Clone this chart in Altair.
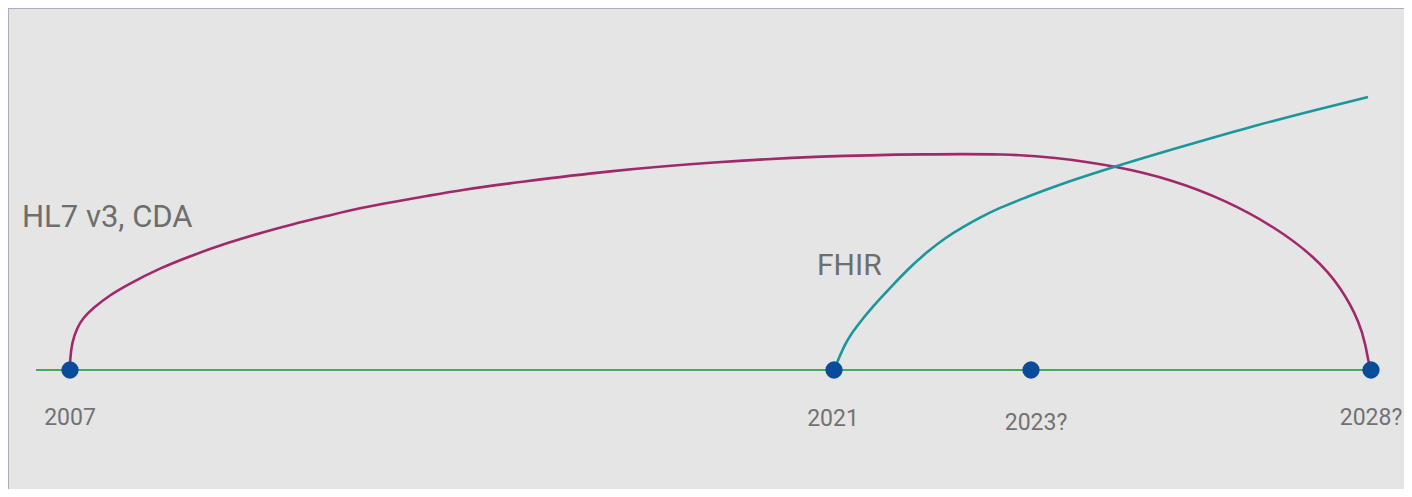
import altair as alt
import pandas as pd

W, H = 1396, 481

# Timeline milestones (position along the timeline, label)
ms_pos = [62, 826, 1023, 1363]
ms_label = ["2007", "2021", "2023?", "2028?"]
ms_label_pos = [62, 825, 1028, 1363]
ms_label_y = [-48, -49, -53, -48]

# HL7 v3, CDA curve (position, height above the timeline)
hl7_x = [62, 62, 64, 69, 75, 85, 102, 119, 152, 185, 219, 252, 285, 319, 352, 385,
         419, 452, 512, 599, 706, 813, 921, 999, 1044, 1108, 1165, 1217, 1267, 1307,
         1333, 1352, 1358, 1360, 1363]
hl7_y = [0, 10, 28, 42, 52, 62, 75, 85, 102, 115, 127, 137, 146, 154, 162, 168,
         174, 180, 188, 199, 208, 214, 216, 216, 213, 204, 190, 170, 143, 113,
         83, 47, 23, 10, 0]

# FHIR curve
fhir_x = [826, 837, 848, 866, 883, 901, 919, 937, 955, 973, 991, 1019, 1044, 1108,
          1169, 1241, 1319, 1360]
fhir_y = [0, 27, 43, 65, 83, 102, 118, 132, 143, 153, 162, 173, 183, 204,
          222, 243, 263, 273]

# Timeline extent
axis_x = [28, 1363]

# Curve labels
cl_text = ["HL7 v3, CDA", "FHIR"]
cl_x = [14, 809]
cl_y = [152, 104]
cl_size = [31, 30]

xs = alt.Scale(domain=[0, W], nice=False, zero=False)
ys = alt.Scale(domain=[-119, 362], nice=False, zero=False)

hl7 = pd.DataFrame({"x": hl7_x, "y": hl7_y, "o": range(len(hl7_x))})
fhir = pd.DataFrame({"x": fhir_x, "y": fhir_y, "o": range(len(fhir_x))})
axis_df = pd.DataFrame({"x": axis_x, "y": [0, 0], "o": [0, 1]})
ms = pd.DataFrame({"x": ms_pos, "y": [0] * len(ms_pos)})
msl = pd.DataFrame({"x": ms_label_pos, "y": ms_label_y, "t": ms_label})
cl = pd.DataFrame({"x": cl_x, "y": cl_y, "t": cl_text, "s": cl_size})

X = lambda: alt.X("x:Q", scale=xs, axis=None)
Y = lambda: alt.Y("y:Q", scale=ys, axis=None)

border_left = alt.Chart(alt.Data(values=[{}])).mark_rule(color="#aeacc4", strokeWidth=1).encode(
    x=alt.value(0.5), y=alt.value(0), y2=alt.value(H))
border_top = alt.Chart(alt.Data(values=[{}])).mark_rule(color="#aeacc4", strokeWidth=1).encode(
    x=alt.value(0), x2=alt.value(W), y=alt.value(0.5))

axis_line = alt.Chart(axis_df).mark_line(color="#3dae5f", strokeWidth=1.8).encode(
    x=X(), y=Y(), order="o:Q")

hl7_line = alt.Chart(hl7).mark_line(color="#a0296b", strokeWidth=2.6, interpolate="basis").encode(
    x=X(), y=Y(), order="o:Q")

fhir_line = alt.Chart(fhir).mark_line(color="#1b979b", strokeWidth=2.6, interpolate="basis").encode(
    x=X(), y=Y(), order="o:Q")

dots = alt.Chart(ms).mark_circle(color="#0a4c9c", opacity=1, size=300).encode(x=X(), y=Y())

ms_text = alt.Chart(msl).mark_text(font="Roboto", fontSize=23, color="#727272",
                                   align="center", baseline="middle").encode(
    x=X(), y=Y(), text="t:N")

cl_txt = alt.Chart(cl).mark_text(font="Roboto", color="#6e6e6e",
                                 align="left", baseline="middle").encode(
    x=X(), y=Y(), text="t:N",
    size=alt.Size("s:Q", scale=None, legend=None))

chart = alt.layer(axis_line, hl7_line, fhir_line, dots, ms_text, cl_txt, border_left, border_top).properties(
    width=W, height=H,
    autosize=alt.AutoSizeParams(type="none"),
    padding=0,
    background="#e5e5e5",
).configure_view(stroke=None)

chart.save("out.html", embed_options={"renderer": "svg", "actions": False})
